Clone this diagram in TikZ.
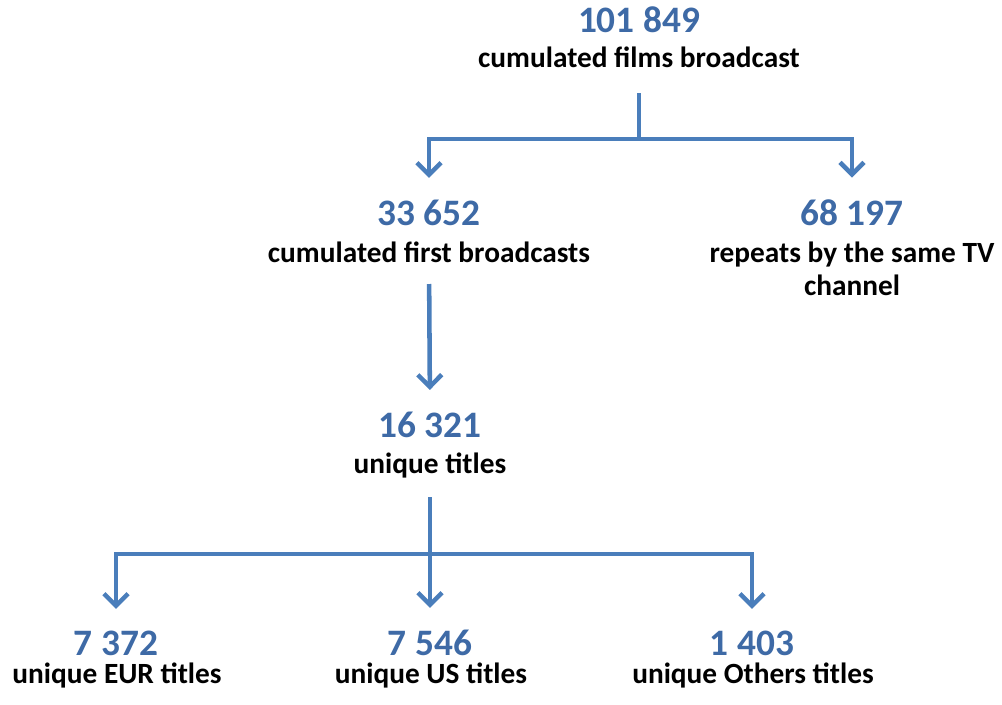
\documentclass[tikz,border=0pt]{standalone}
\usepackage{fontspec}
\setmainfont{Carlito}
\usepackage{xcolor}
\usepackage{tikz}
\usetikzlibrary{arrows.meta}

\definecolor{numblue}{RGB}{62,106,166}
\definecolor{linkblue}{RGB}{74,126,187}

\tikzset{
  num/.style={font=\fontsize{28}{32}\selectfont\bfseries, text=numblue, anchor=base, inner sep=0pt},
  lab/.style={font=\fontsize{22}{24.75}\selectfont\bfseries, anchor=base, inner sep=0pt},
  link/.style={draw=linkblue, line width=3.4pt},
  arr/.style={link, -{Straight Barb[length=9pt,width=18pt]}}
}

\begin{document}
\begin{tikzpicture}[x=0.75pt,y=-0.75pt]

    \useasboundingbox (0,0) rectangle (1002,704);
          % Keeps the page at the size of the original

    \node[num] (ntot) at (639,32) {101 849};
    \node[lab] (lfilms) at (639,67) {cumulated films broadcast};

    \node[num] (nfirst) at (429,225) {33 652};
    \node[lab] (lfirst) at (429,262) {cumulated first broadcasts};
    \node[num] (nrep) at (852,225) {68 197};
    \node[lab, align=center] (lrep) at (852,295) {repeats by the same TV\\channel};
          % base of a two-line node sits on its last line

    \node[num] (nuniq) at (430,437) {16 321};
    \node[lab] (luniq) at (430,473) {unique titles};

    \node[num] (neur) at (116,655) {7 372};
    \node[lab] (leur) at (117,683) {unique EUR titles};
    \node[num] (nus) at (430,655) {7 546};
    \node[lab] (lus) at (431,683) {unique US titles};
    \node[num] (noth) at (752,655) {1 403};
    \node[lab] (loth) at (753,683) {unique Others titles};

    \coordinate (split1) at (639,139);
    \coordinate (split2) at (430,554);
          % Corners where the connectors fork

		\draw[link, shorten <=19.5pt] (lfilms.base) -- (split1);
		\draw[arr, shorten >=16pt] (split1) -| (nfirst.north);
		\draw[arr, shorten >=16pt] (split1) -| (nrep.north);

		\draw[arr, shorten <=16.5pt, shorten >=16pt] (lfirst.base) -- (nuniq.north);

		\draw[arr, shorten <=18pt, shorten >=16pt] (luniq.base) -- (nus.north);
		\draw[arr, shorten >=16pt] (split2) -| (neur.north);
		\draw[arr, shorten >=16pt] (split2) -| (noth.north);

\end{tikzpicture}
\end{document}
